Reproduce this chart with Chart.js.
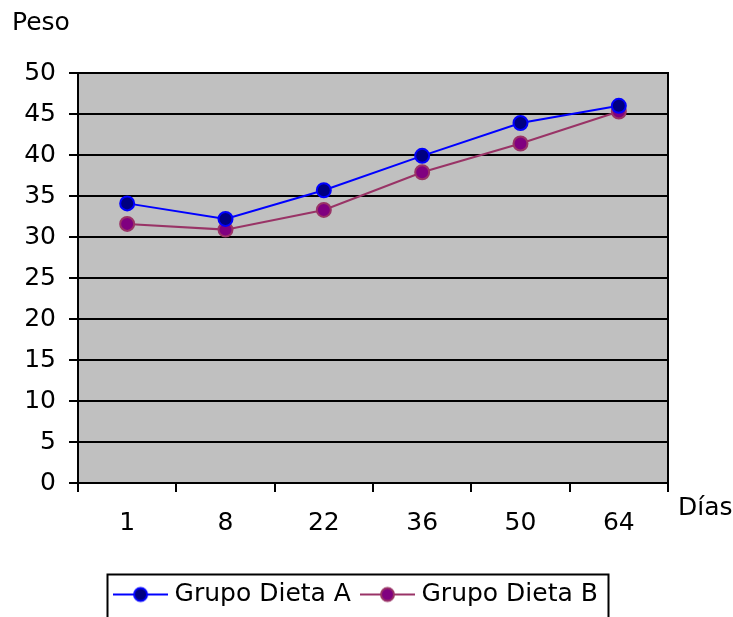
<!DOCTYPE html>
<html>
<head>
<meta charset="utf-8">
<script src="https://cdn.jsdelivr.net/npm/chart.js@4/dist/chart.umd.min.js"></script>
<style>
  html, body { margin: 0; padding: 0; background: #fff; }
  #wrap { width: 733px; height: 617px; }
</style>
</head>
<body>
<div id="wrap"><canvas id="c" width="733" height="617"></canvas></div>
<script>
// Días de medición
const dias = ['1', '8', '22', '36', '50', '64'];
// Peso medio de cada grupo
const grupoDietaA = [34.1, 32.2, 35.7, 39.9, 43.9, 46.0];
const grupoDietaB = [31.6, 30.9, 33.3, 37.9, 41.4, 45.3];
// Marcas del eje vertical
const pesoMin = 0, pesoMax = 50, pesoPaso = 5;

const FONT = '"DejaVu Sans", Verdana, sans-serif';
const FSIZE = 25;

// Muestra de leyenda: línea con círculo
function legendSample(lineColor, fill, border) {
  const cv = document.createElement('canvas');
  cv.width = 55; cv.height = 18;
  const g = cv.getContext('2d');
  g.strokeStyle = lineColor; g.lineWidth = 2;
  g.beginPath(); g.moveTo(0, 9); g.lineTo(55, 9); g.stroke();
  g.beginPath(); g.arc(27.5, 9, 6.5, 0, Math.PI * 2);
  g.fillStyle = fill; g.fill();
  g.strokeStyle = border; g.lineWidth = 2; g.stroke();
  return cv;
}

const series = [
  { label: 'Grupo Dieta A', data: grupoDietaA, line: '#0000FF', fill: '#000080', border: '#0000FF' },
  { label: 'Grupo Dieta B', data: grupoDietaB, line: '#993366', fill: '#800080', border: '#993366' }
];
const samples = series.map(s => legendSample(s.line, s.fill, s.border));

// Fondo gris y marco del área de trazado
const plotFrame = {
  id: 'plotFrame',
  beforeDraw(chart) {
    const { ctx, chartArea: a } = chart;
    ctx.save();
    ctx.fillStyle = '#C0C0C0';
    ctx.fillRect(a.left, a.top, a.right - a.left, a.bottom - a.top);
    ctx.restore();
  },
  beforeDatasetsDraw(chart) {
    const { ctx, chartArea: a } = chart;
    ctx.save();
    ctx.strokeStyle = '#000';
    ctx.lineWidth = 2;
    ctx.strokeRect(Math.round(a.left), Math.round(a.top), Math.round(a.right - a.left), Math.round(a.bottom - a.top));
    ctx.restore();
  },
  afterDraw(chart) {
    const { ctx, chartArea: a } = chart;
    ctx.save();
    ctx.fillStyle = '#000';
    ctx.font = FSIZE + 'px ' + FONT;
    ctx.textAlign = 'left';
    ctx.textBaseline = 'middle';
    ctx.fillText('Peso', a.left - 66, a.top - 50);
    ctx.fillText('Días', a.right + 10, a.bottom + 25);
    // Marco de la leyenda
    const lg = chart.legend;
    const hb = lg.legendHitBoxes;
    if (hb && hb.length) {
      const first = hb[0], last = hb[hb.length - 1];
      const x0 = Math.round(first.left - 12) + 0.5;
      const x1 = Math.round(last.left + last.width + 10) + 0.5;
      const y0 = Math.round(lg.top + 7) + 0.5;
      ctx.strokeStyle = '#000';
      ctx.lineWidth = 2;
      ctx.beginPath();
      ctx.moveTo(x0, lg.bottom + 20);
      ctx.lineTo(x0, y0);
      ctx.lineTo(x1, y0);
      ctx.lineTo(x1, lg.bottom + 20);
      ctx.stroke();
    }
    ctx.restore();
  }
};

new Chart(document.getElementById('c'), {
  type: 'line',
  data: {
    labels: dias,
    datasets: series.map(s => ({
      label: s.label,
      data: s.data,
      borderColor: s.line,
      borderWidth: 2,
      backgroundColor: s.fill,
      pointBackgroundColor: s.fill,
      pointBorderColor: s.border,
      pointBorderWidth: 2,
      pointRadius: 7,
      pointHoverRadius: 7,
      tension: 0,
      fill: false
    }))
  },
  options: {
    responsive: false,
    animation: false,
    devicePixelRatio: 1,
    layout: { padding: { left: 0, right: 16, top: 73, bottom: 0 } },
    scales: {
      x: {
        type: 'category',
        offset: true,
        grid: { offset: true, drawOnChartArea: false, drawTicks: true, tickLength: 9, color: '#000', lineWidth: 2 },
        border: { display: true, color: '#000', width: 2 },
        ticks: { color: '#000', font: { family: FONT, size: FSIZE }, padding: 16, maxRotation: 0 },
        afterFit(scale) { scale.height = 84; }
      },
      y: {
        min: pesoMin, max: pesoMax,
        grid: { color: '#000', lineWidth: 2, tickLength: 9 },
        border: { display: true, color: '#000', width: 2 },
        ticks: { stepSize: pesoPaso, color: '#000', font: { family: FONT, size: FSIZE }, padding: 13 },
        afterFit(scale) { scale.width = 78; }
      },
      yR: {
        position: 'right',
        display: true,
        grid: { display: false, drawTicks: false },
        border: { display: false },
        ticks: { display: false },
        afterFit(scale) { scale.width = 49; }
      }
    },
    plugins: {
      tooltip: { enabled: false },
      legend: {
        display: true,
        position: 'bottom',
        align: 'center',
        labels: {
          usePointStyle: true,
          pointStyleWidth: 43,
          padding: 15,
          color: '#000',
          font: { family: FONT, size: FSIZE },
          generateLabels(chart) {
            const items = Chart.defaults.plugins.legend.labels.generateLabels(chart);
            items.forEach((it, i) => { it.pointStyle = samples[i]; });
            return items;
          }
        }
      }
    }
  },
  plugins: [plotFrame]
});
</script>
</body>
</html>
